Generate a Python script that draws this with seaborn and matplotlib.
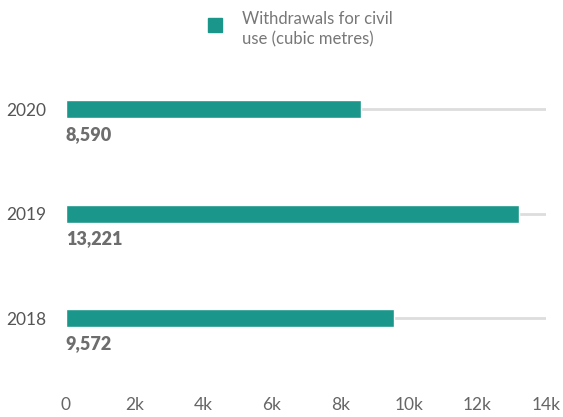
import matplotlib
matplotlib.use("Agg")
import matplotlib.pyplot as plt
import seaborn as sns
import pandas as pd

# data
years = ["2020", "2019", "2018"]
withdrawals = [8590, 13221, 9572]
x_ticks = [0, 2000, 4000, 6000, 8000, 10000, 12000, 14000]
x_tick_labels = ["0", "2k", "4k", "6k", "8k", "10k", "12k", "14k"]
series_name = "Withdrawals for civil\nuse (cubic metres)"

df = pd.DataFrame({"year": years, "value": withdrawals})

sns.set_style("white")
plt.rcParams["font.family"] = ["Lato", "DejaVu Sans"]

bar_color = "#1b968a"

fig = plt.figure(figsize=(5.63, 4.17), dpi=100)
ax = fig.add_axes([0.117, 0.1115, 0.853, 0.7515])

sns.barplot(data=df, x="value", y="year", order=years, orient="h",
            color=bar_color, width=0.17, saturation=1, ax=ax, zorder=3)

ax.set_xlim(0, 14000)
ax.set_ylim(2.5, -0.5)
ax.set_xticks(x_ticks)
ax.set_xticklabels(x_tick_labels)
ax.set_xlabel("")
ax.set_ylabel("")
ax.yaxis.grid(True, color="#dddddd", lw=2, zorder=0)
ax.xaxis.grid(False)
for s in ax.spines.values():
    s.set_visible(False)
ax.tick_params(axis="x", length=0, pad=19, labelsize=12.5, labelcolor="#666666")
ax.tick_params(axis="y", length=0, pad=14, labelsize=12.5, labelcolor="#555555")

# value labels under bars
for i, v in enumerate(withdrawals):
    ax.text(0, i + 0.24, f"{v:,}", ha="left", va="center",
            fontsize=13, fontweight="heavy", color="#6d6d6d")

# legend
fig.patches.append(plt.Rectangle((208 / 563, 1 - 32 / 417), 14 / 563, 14 / 417,
                                 transform=fig.transFigure, color=bar_color))
fig.text(242 / 563, 1 - 29 / 417, series_name, ha="left", va="center",
         fontsize=12, color="#777777", linespacing=1.3)

fig.savefig("out.png", dpi=100)
